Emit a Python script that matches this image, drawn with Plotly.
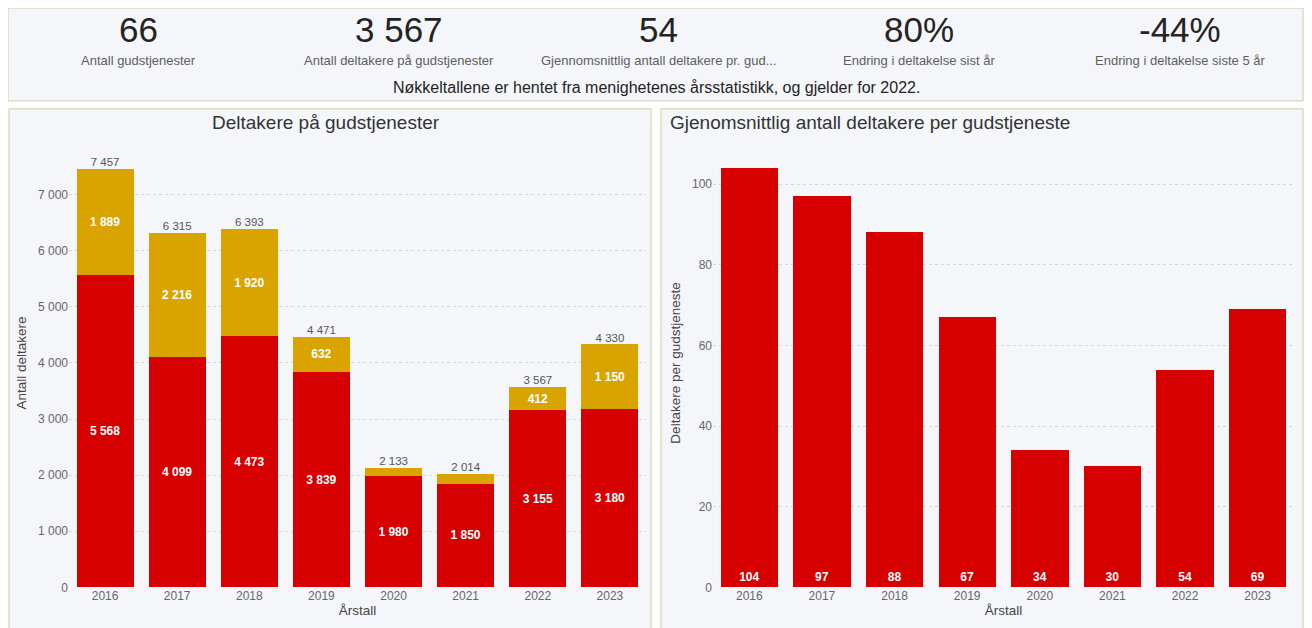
import plotly.graph_objects as go

years = ["2016", "2017", "2018", "2019", "2020", "2021", "2022", "2023"]
red_vals = [5568, 4099, 4473, 3839, 1980, 1850, 3155, 3180]
gold_vals = [1889, 2216, 1920, 632, 153, 164, 412, 1150]
totals = [7457, 6315, 6393, 4471, 2133, 2014, 3567, 4330]
avg_vals = [104, 97, 88, 67, 34, 30, 54, 69]

kpi_values = ["66", "3 567", "54", "80%", "-44%"]
kpi_labels = ["Antall gudstjenester", "Antall deltakere på gudstjenester",
              "Gjennomsnittlig antall deltakere pr. gud...", "Endring i deltakelse sist år",
              "Endring i deltakelse siste 5 år"]
note = "Nøkkeltallene er hentet fra menighetenes årsstatistikk, og gjelder for 2022."

OFF = 8
W, H = 1312 - 2 * OFF, 628 - OFF
RED = "#D60000"
GOLD = "#D9A300"
FONT = "Liberation Sans"

def fmt(v):
    return f"{v:,}".replace(",", " ")

def px(x):
    return (x - OFF) / W

def py(y):
    return 1 - (y - OFF) / H

gold_text = [fmt(v) if v > 300 else "" for v in gold_vals]

fig = go.Figure()
fig.add_trace(go.Bar(x=years, y=red_vals, marker=dict(color=RED, line=dict(width=0)),
                     text=[fmt(v) for v in red_vals], textposition="inside",
                     insidetextanchor="middle", textangle=0,
                     textfont=dict(color="white", size=12, family=FONT, weight="bold"),
                     xaxis="x", yaxis="y", hoverinfo="skip"))
fig.add_trace(go.Bar(x=years, y=gold_vals, marker=dict(color=GOLD, line=dict(width=0)),
                     text=gold_text, textposition="inside",
                     insidetextanchor="middle", textangle=0,
                     textfont=dict(color="white", size=12, family=FONT, weight="bold"),
                     xaxis="x", yaxis="y", hoverinfo="skip"))
fig.add_trace(go.Scatter(x=years, y=totals, mode="text", text=[fmt(v) for v in totals],
                         textposition="top center",
                         textfont=dict(color="#555555", size=11.5, family=FONT),
                         xaxis="x", yaxis="y", hoverinfo="skip"))
fig.add_trace(go.Bar(x=years, y=avg_vals, marker=dict(color=RED, line=dict(width=0)),
                     text=[str(v) for v in avg_vals], textposition="inside",
                     insidetextanchor="start", textangle=0,
                     textfont=dict(color="white", size=12, family=FONT, weight="bold"),
                     xaxis="x2", yaxis="y2", hoverinfo="skip"))

axis_common = dict(showline=False, zeroline=False, ticks="",
                   tickfont=dict(color="#666666", size=12, family=FONT))
title_font = dict(size=13.5, color="#444444", family=FONT)

fig.update_layout(
    width=W, height=H, margin=dict(l=0, r=0, t=0, b=0),
    paper_bgcolor="white", plot_bgcolor="rgba(0,0,0,0)",
    barmode="stack", bargap=0.21, showlegend=False,
    separators=", ",
    font=dict(family=FONT, color="#333333"),
    xaxis=dict(domain=[px(69), px(646)], anchor="y", showgrid=False,
               title=dict(text="Årstall", font=title_font, standoff=3),
               **axis_common),
    yaxis=dict(domain=[py(594), py(140)], anchor="x", range=[0, 8000],
               tickvals=[0, 1000, 2000, 3000, 4000, 5000, 6000, 7000], tickformat=",d",
               showgrid=True, gridcolor="#d6d6d6", griddash="dot", gridwidth=1,
               title=dict(text="Antall deltakere", font=title_font, standoff=8),
               **axis_common),
    xaxis2=dict(domain=[px(713), px(1294)], anchor="y2", showgrid=False,
                title=dict(text="Årstall", font=title_font, standoff=3),
                **axis_common),
    yaxis2=dict(domain=[py(594), py(140)], anchor="x2", range=[0, 111.3],
                tickvals=[0, 20, 40, 60, 80, 100],
                showgrid=True, gridcolor="#d6d6d6", griddash="dot", gridwidth=1,
                title=dict(text="Deltakere per gudstjeneste", font=title_font, standoff=8),
                **axis_common),
)

border = "#D4C9A3"
panel_bg = "#F5F6FA"
shapes = []
for (x0, y0, x1, y1) in [(8, 8, 1303, 102), (9, 110, 651, 660), (661, 110, 1303, 660)]:
    shapes.append(dict(type="rect", xref="paper", yref="paper",
                       x0=px(x0), x1=px(x1), y0=py(y1), y1=py(y0),
                       line=dict(color=border, width=1), fillcolor=panel_bg, layer="below"))
fig.update_layout(shapes=shapes)

annotations = []
centers = [138, 399, 659, 919, 1180]
for cx, val, lab in zip(centers, kpi_values, kpi_labels):
    annotations.append(dict(x=px(cx), y=py(30), xref="paper", yref="paper", text=val,
                            showarrow=False, xanchor="center", yanchor="middle",
                            font=dict(size=35, color="#252423", family=FONT)))
    annotations.append(dict(x=px(cx), y=py(61), xref="paper", yref="paper", text=lab,
                            showarrow=False, xanchor="center", yanchor="middle",
                            font=dict(size=13, color="#605E5C", family=FONT)))
annotations.append(dict(x=px(657), y=py(88), xref="paper", yref="paper", text=note,
                        showarrow=False, xanchor="center", yanchor="middle",
                        font=dict(size=16, color="#252423", family=FONT)))
annotations.append(dict(x=px(326), y=py(124), xref="paper", yref="paper",
                        text="Deltakere på gudstjenester", showarrow=False,
                        xanchor="center", yanchor="middle",
                        font=dict(size=19, color="#333333", family=FONT)))
annotations.append(dict(x=px(668), y=py(124), xref="paper", yref="paper",
                        text="Gjenomsnittlig antall deltakere per gudstjeneste", showarrow=False,
                        xanchor="left", yanchor="middle",
                        font=dict(size=19, color="#333333", family=FONT)))
fig.update_layout(annotations=annotations)

fig.write_html("out.html")
